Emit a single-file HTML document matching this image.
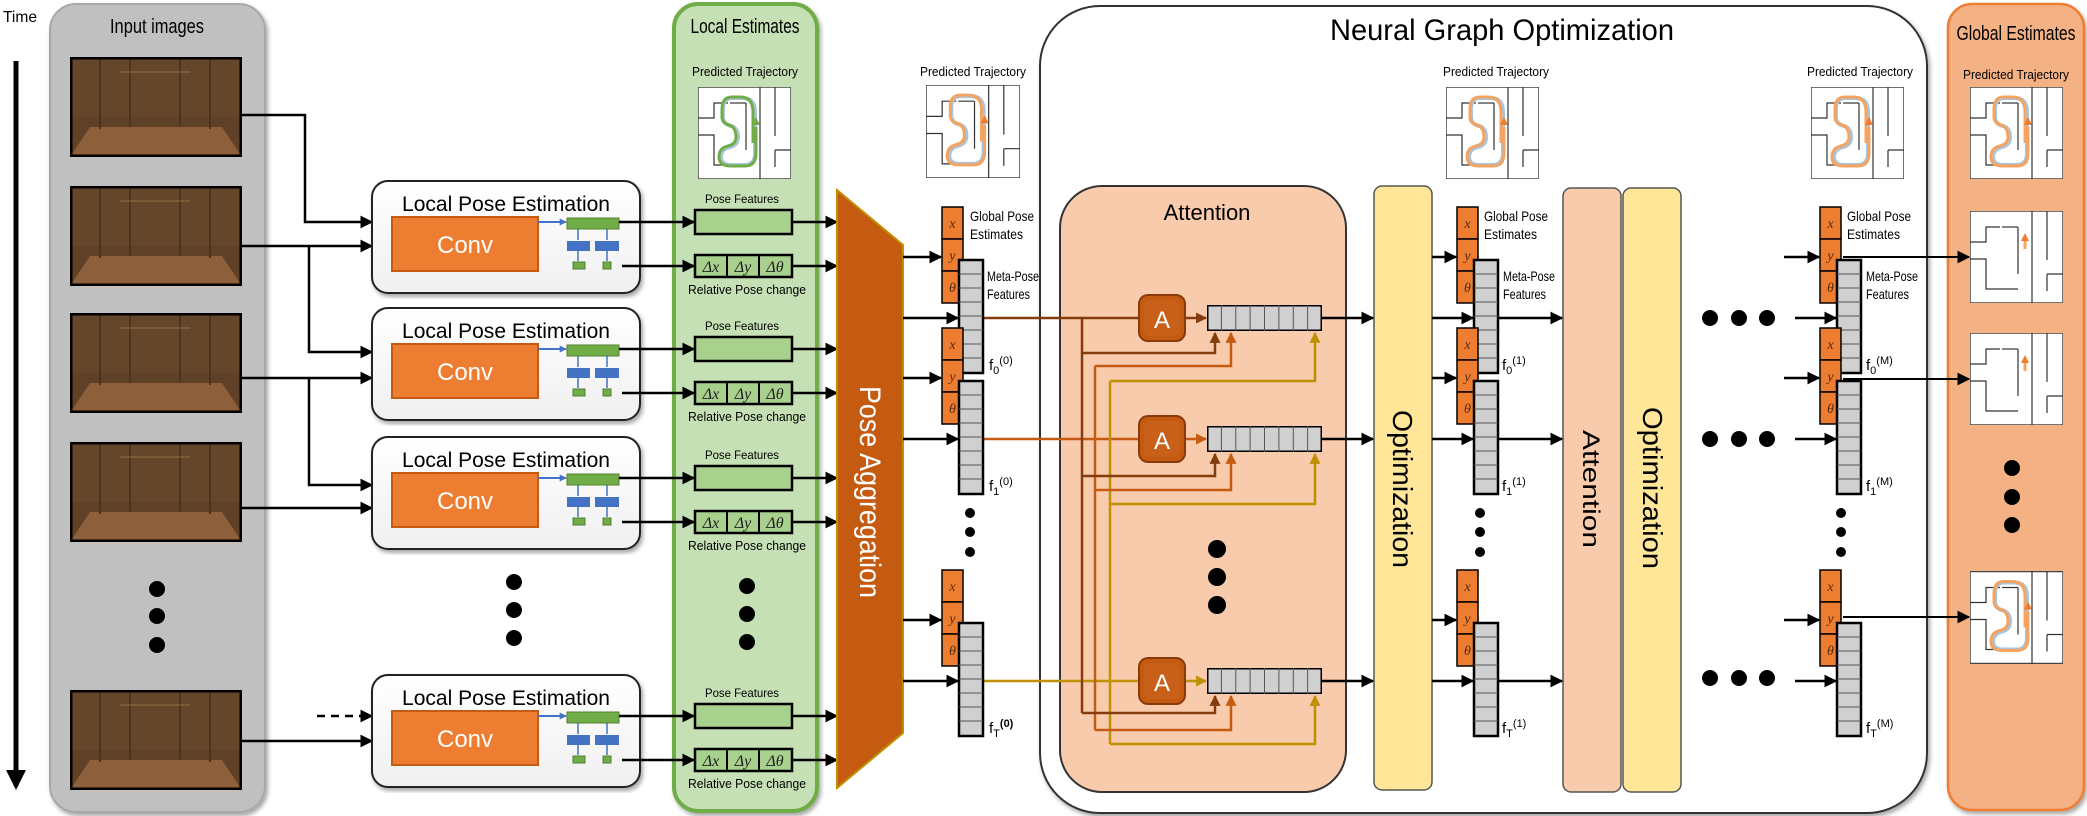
<!DOCTYPE html>
<html><head><meta charset="utf-8"><style>
html,body{margin:0;padding:0;background:#fff;}
svg{display:block;font-family:"Liberation Sans",sans-serif;}
.c{font-family:"Liberation Sans Narrow","Liberation Sans",sans-serif;}
.m{font-family:"Liberation Serif",serif;font-style:italic;}
</style></head><body>
<svg width="2087" height="816" viewBox="0 0 2087 816" xmlns="http://www.w3.org/2000/svg">
<defs>
<marker id="ak" viewBox="0 0 10 10" refX="9" refY="5" markerWidth="13" markerHeight="13" markerUnits="userSpaceOnUse" orient="auto"><path d="M0,0 L10,5 L0,10 z" fill="#000"/></marker>
<marker id="ab" viewBox="0 0 10 10" refX="9" refY="5" markerWidth="11" markerHeight="11" markerUnits="userSpaceOnUse" orient="auto"><path d="M0,0 L10,5 L0,10 z" fill="#843C0C"/></marker>
<marker id="ao" viewBox="0 0 10 10" refX="9" refY="5" markerWidth="11" markerHeight="11" markerUnits="userSpaceOnUse" orient="auto"><path d="M0,0 L10,5 L0,10 z" fill="#C55A11"/></marker>
<marker id="ag" viewBox="0 0 10 10" refX="9" refY="5" markerWidth="11" markerHeight="11" markerUnits="userSpaceOnUse" orient="auto"><path d="M0,0 L10,5 L0,10 z" fill="#BF9000"/></marker>
<marker id="abl" viewBox="0 0 10 10" refX="9" refY="5" markerWidth="7" markerHeight="7" markerUnits="userSpaceOnUse" orient="auto"><path d="M0,0 L10,5 L0,10 z" fill="#4472C4"/></marker>
<filter id="sh" x="-5%" y="-5%" width="110%" height="110%"><feDropShadow dx="2" dy="3" stdDeviation="2" flood-color="#000" flood-opacity="0.35"/></filter>
<symbol id="maze" viewBox="0 0 93 92">
<rect x="0" y="0" width="93" height="92" fill="#fff" stroke="#444" stroke-width="1.5"/>
<g fill="none" stroke="#333" stroke-width="1.2">
<path d="M62,0 V92"/><path d="M77,0 V49"/><path d="M77,63 H93 M77,63 V80"/>
<path d="M0,31 H16 V16 H30"/><path d="M0,48 H16 V78 H48"/><path d="M48,16 V63"/><path d="M32,16 H48"/>
</g>
</symbol>
<symbol id="trajO" viewBox="0 0 93 92">
<path d="M57,55 V25 Q57,11 44,11 H34 Q25,11 25,22 V30 Q25,37 33,39 Q40,41 40,50 Q40,58 32,60 Q23,62 23,70 Q23,78 33,78 H47 Q57,78 57,66 Z" fill="none" stroke="#a9c4dc" stroke-width="4"/>
<path d="M55,56 V25 Q55,10 42,10 H34 Q24,10 24,22 V30 Q24,36 31,38 Q38,40 38,50 Q38,57 30,59 Q21,61 21,70 Q21,79 33,79 H47 Q58,79 58,66 V40" fill="none" stroke="#F4A460" stroke-width="3"/>
<path d="M54,38 L58,30 L62,38 z" fill="#ED7D31"/>
</symbol>
<symbol id="trajG" viewBox="0 0 93 92">
<path d="M57,55 V25 Q57,11 44,11 H34 Q25,11 25,22 V30 Q25,37 33,39 Q40,41 40,50 Q40,58 32,60 Q23,62 23,70 Q23,78 33,78 H47 Q57,78 57,66 Z" fill="none" stroke="#a9c4dc" stroke-width="4"/>
<path d="M55,56 V25 Q55,10 42,10 H34 Q24,10 24,22 V30 Q24,36 31,38 Q38,40 38,50 Q38,57 30,59 Q21,61 21,70 Q21,79 33,79 H47 Q58,79 58,66 V40" fill="none" stroke="#70AD47" stroke-width="3"/>
<path d="M54,38 L58,30 L62,38 z" fill="#70AD47"/>
</symbol>
<symbol id="arrowO" viewBox="0 0 93 92">
<path d="M55,38 V30" stroke="#F4A460" stroke-width="3"/><path d="M51,30 L55,22 L59,30 z" fill="#ED7D31"/>
</symbol>
<symbol id="img" viewBox="0 0 172 100">
<rect x="0" y="0" width="172" height="100" fill="#5e4126"/>
<rect x="0" y="0" width="172" height="60" fill="#64462a"/>
<polygon points="0,100 20,70 152,70 172,100" fill="#8d5f3a"/>
<path d="M30,0 V72 M60,0 V70 M110,0 V70 M140,0 V72" stroke="#4b331d" stroke-width="2"/>
<path d="M50,15 L120,15" stroke="#b88c5a" stroke-width="1" opacity="0.6"/>
<rect x="0" y="0" width="172" height="100" fill="none" stroke="#000" stroke-width="5"/>
</symbol>
<symbol id="stack" viewBox="0 0 44 170" overflow="visible">
<rect x="0" y="0" width="21" height="32" fill="#ED7D31" stroke="#000" stroke-width="1.5"/>
<rect x="0" y="32" width="21" height="32" fill="#ED7D31" stroke="#000" stroke-width="1.5"/>
<rect x="0" y="64" width="21" height="32" fill="#ED7D31" stroke="#000" stroke-width="1.5"/>
<text x="10.5" y="21" font-size="14" text-anchor="middle" class="m" fill="#5a2a0a">x</text>
<text x="10.5" y="53" font-size="14" text-anchor="middle" class="m" fill="#5a2a0a">y</text>
<text x="10.5" y="85" font-size="14" text-anchor="middle" class="m" fill="#5a2a0a">θ</text>
<rect x="17" y="53" width="24" height="113" fill="#d0d0d0" stroke="#000" stroke-width="2.5"/>
<path d="M17,67 H41 M17,81 H41 M17,95 H41 M17,109 H41 M17,123 H41 M17,137 H41 M17,151 H41" stroke="#555" stroke-width="1"/>
</symbol>
<symbol id="vec" viewBox="0 0 115 26">
<rect x="0" y="0" width="115" height="26" fill="#d0d0d0" stroke="#000" stroke-width="3"/>
<path d="M14.4,0 V26 M28.8,0 V26 M43.1,0 V26 M57.5,0 V26 M71.9,0 V26 M86.3,0 V26 M100.6,0 V26" stroke="#555" stroke-width="1"/>
</symbol>
<symbol id="abox" viewBox="0 0 48 48">
<rect x="1" y="1" width="46" height="46" rx="9" fill="#C55A11" stroke="#8a3a08" stroke-width="2"/>
<rect x="6" y="6" width="36" height="36" rx="6" fill="#c8601a"/>
</symbol>
<linearGradient id="lpe" x1="0" y1="0" x2="0" y2="1"><stop offset="0" stop-color="#fff"/><stop offset="1" stop-color="#f0f0f0"/></linearGradient>
</defs>

<text x="3" y="22" font-size="16" class="c" textLength="34" lengthAdjust="spacingAndGlyphs">Time</text>
<line x1="16" y1="61" x2="16" y2="786" stroke="#000" stroke-width="5" marker-end="url(#ak)"/>
<polygon points="6,770 26,770 16,790" fill="#000"/>

<rect x="50" y="4" width="215" height="808" rx="26" fill="#c0c0c0" stroke="#a8a8a8" stroke-width="2" filter="url(#sh)"/>
<text x="157" y="33" font-size="20" text-anchor="middle" class="c" textLength="94" lengthAdjust="spacingAndGlyphs">Input images</text>
<use href="#img" x="70" y="57" width="172" height="100"/>
<use href="#img" x="70" y="186" width="172" height="100"/>
<use href="#img" x="70" y="313" width="172" height="100"/>
<use href="#img" x="70" y="442" width="172" height="100"/>
<use href="#img" x="70" y="690" width="172" height="100"/>
<circle cx="157" cy="589" r="8"/><circle cx="157" cy="616" r="8"/><circle cx="157" cy="645" r="8"/>

<g fill="none" stroke="#000" stroke-width="2.5" marker-end="url(#ak)">
<path d="M242,115 H305 V222 H372"/>
<path d="M242,246 H372"/><path d="M309,246 V352 H372"/>
<path d="M242,378 H372"/><path d="M309,378 V485 H372"/>
<path d="M242,508 H372"/>
<path d="M317,716 H372" stroke-dasharray="8,6"/>
<path d="M242,741 H372"/>
</g>

<g transform="translate(0,181)">
<rect x="372" y="0" width="268" height="112" rx="16" fill="url(#lpe)" stroke="#222" stroke-width="2" filter="url(#sh)"/>
<text x="506" y="30" font-size="21" text-anchor="middle" class="c" textLength="208" lengthAdjust="spacingAndGlyphs">Local Pose  Estimation</text>
<rect x="392" y="36" width="146" height="54" fill="#ED7D31" stroke="#C55A11" stroke-width="2"/>
<text x="465" y="72" font-size="24" text-anchor="middle" fill="#fff">Conv</text>
<line x1="538" y1="41" x2="566" y2="41" stroke="#4472C4" stroke-width="2" marker-end="url(#abl)"/>
<rect x="567" y="37" width="52" height="11" fill="#70AD47" stroke="#507e32" stroke-width="1"/>
<path d="M578,48 V59 M607,48 V59 M578,70 V80 M607,70 V80" stroke="#4472C4" stroke-width="1.5"/>
<rect x="567" y="60" width="23" height="10" fill="#4472C4"/><rect x="595" y="60" width="24" height="10" fill="#4472C4"/>
<rect x="573" y="81" width="12" height="7" fill="#70AD47" stroke="#507e32"/><rect x="603" y="81" width="8" height="7" fill="#70AD47" stroke="#507e32"/>
</g>
<g transform="translate(0,308)">
<rect x="372" y="0" width="268" height="112" rx="16" fill="url(#lpe)" stroke="#222" stroke-width="2" filter="url(#sh)"/>
<text x="506" y="30" font-size="21" text-anchor="middle" class="c" textLength="208" lengthAdjust="spacingAndGlyphs">Local Pose  Estimation</text>
<rect x="392" y="36" width="146" height="54" fill="#ED7D31" stroke="#C55A11" stroke-width="2"/>
<text x="465" y="72" font-size="24" text-anchor="middle" fill="#fff">Conv</text>
<line x1="538" y1="41" x2="566" y2="41" stroke="#4472C4" stroke-width="2" marker-end="url(#abl)"/>
<rect x="567" y="37" width="52" height="11" fill="#70AD47" stroke="#507e32" stroke-width="1"/>
<path d="M578,48 V59 M607,48 V59 M578,70 V80 M607,70 V80" stroke="#4472C4" stroke-width="1.5"/>
<rect x="567" y="60" width="23" height="10" fill="#4472C4"/><rect x="595" y="60" width="24" height="10" fill="#4472C4"/>
<rect x="573" y="81" width="12" height="7" fill="#70AD47" stroke="#507e32"/><rect x="603" y="81" width="8" height="7" fill="#70AD47" stroke="#507e32"/>
</g>
<g transform="translate(0,437)">
<rect x="372" y="0" width="268" height="112" rx="16" fill="url(#lpe)" stroke="#222" stroke-width="2" filter="url(#sh)"/>
<text x="506" y="30" font-size="21" text-anchor="middle" class="c" textLength="208" lengthAdjust="spacingAndGlyphs">Local Pose  Estimation</text>
<rect x="392" y="36" width="146" height="54" fill="#ED7D31" stroke="#C55A11" stroke-width="2"/>
<text x="465" y="72" font-size="24" text-anchor="middle" fill="#fff">Conv</text>
<line x1="538" y1="41" x2="566" y2="41" stroke="#4472C4" stroke-width="2" marker-end="url(#abl)"/>
<rect x="567" y="37" width="52" height="11" fill="#70AD47" stroke="#507e32" stroke-width="1"/>
<path d="M578,48 V59 M607,48 V59 M578,70 V80 M607,70 V80" stroke="#4472C4" stroke-width="1.5"/>
<rect x="567" y="60" width="23" height="10" fill="#4472C4"/><rect x="595" y="60" width="24" height="10" fill="#4472C4"/>
<rect x="573" y="81" width="12" height="7" fill="#70AD47" stroke="#507e32"/><rect x="603" y="81" width="8" height="7" fill="#70AD47" stroke="#507e32"/>
</g>
<g transform="translate(0,675)">
<rect x="372" y="0" width="268" height="112" rx="16" fill="url(#lpe)" stroke="#222" stroke-width="2" filter="url(#sh)"/>
<text x="506" y="30" font-size="21" text-anchor="middle" class="c" textLength="208" lengthAdjust="spacingAndGlyphs">Local Pose  Estimation</text>
<rect x="392" y="36" width="146" height="54" fill="#ED7D31" stroke="#C55A11" stroke-width="2"/>
<text x="465" y="72" font-size="24" text-anchor="middle" fill="#fff">Conv</text>
<line x1="538" y1="41" x2="566" y2="41" stroke="#4472C4" stroke-width="2" marker-end="url(#abl)"/>
<rect x="567" y="37" width="52" height="11" fill="#70AD47" stroke="#507e32" stroke-width="1"/>
<path d="M578,48 V59 M607,48 V59 M578,70 V80 M607,70 V80" stroke="#4472C4" stroke-width="1.5"/>
<rect x="567" y="60" width="23" height="10" fill="#4472C4"/><rect x="595" y="60" width="24" height="10" fill="#4472C4"/>
<rect x="573" y="81" width="12" height="7" fill="#70AD47" stroke="#507e32"/><rect x="603" y="81" width="8" height="7" fill="#70AD47" stroke="#507e32"/>
</g>
<circle cx="514" cy="582" r="8"/><circle cx="514" cy="610" r="8"/><circle cx="514" cy="638" r="8"/>

<rect x="674" y="4" width="143" height="807" rx="24" fill="#C5E0B4" stroke="#70AD47" stroke-width="4" filter="url(#sh)"/>
<text x="745" y="33" font-size="20" text-anchor="middle" class="c" textLength="109" lengthAdjust="spacingAndGlyphs">Local Estimates</text>
<text x="745" y="76" font-size="13" text-anchor="middle" class="c" textLength="106" lengthAdjust="spacingAndGlyphs">Predicted Trajectory</text>
<use href="#maze" x="698" y="87" width="93" height="92"/>
<use href="#trajG" x="698" y="87" width="93" height="92"/>

<g transform="translate(0,181)">
<text x="742" y="22" font-size="12" text-anchor="middle" class="c" textLength="74" lengthAdjust="spacingAndGlyphs">Pose Features</text>
<rect x="695" y="29" width="97" height="24" fill="#A9D18E" stroke="#000" stroke-width="2.5"/>
<rect x="695" y="74" width="97" height="22" fill="#A9D18E" stroke="#000" stroke-width="2.5"/>
<path d="M727,74 V96 M759,74 V96" stroke="#000" stroke-width="2"/>
<text x="711" y="91" font-size="16" text-anchor="middle" class="m" fill="#222">Δx</text>
<text x="743" y="91" font-size="16" text-anchor="middle" class="m" fill="#222">Δy</text>
<text x="775" y="91" font-size="16" text-anchor="middle" class="m" fill="#222">Δθ</text>
<text x="747" y="113" font-size="13" text-anchor="middle" class="c" textLength="118" lengthAdjust="spacingAndGlyphs">Relative Pose change</text>
</g>
<g transform="translate(0,308)">
<text x="742" y="22" font-size="12" text-anchor="middle" class="c" textLength="74" lengthAdjust="spacingAndGlyphs">Pose Features</text>
<rect x="695" y="29" width="97" height="24" fill="#A9D18E" stroke="#000" stroke-width="2.5"/>
<rect x="695" y="74" width="97" height="22" fill="#A9D18E" stroke="#000" stroke-width="2.5"/>
<path d="M727,74 V96 M759,74 V96" stroke="#000" stroke-width="2"/>
<text x="711" y="91" font-size="16" text-anchor="middle" class="m" fill="#222">Δx</text>
<text x="743" y="91" font-size="16" text-anchor="middle" class="m" fill="#222">Δy</text>
<text x="775" y="91" font-size="16" text-anchor="middle" class="m" fill="#222">Δθ</text>
<text x="747" y="113" font-size="13" text-anchor="middle" class="c" textLength="118" lengthAdjust="spacingAndGlyphs">Relative Pose change</text>
</g>
<g transform="translate(0,437)">
<text x="742" y="22" font-size="12" text-anchor="middle" class="c" textLength="74" lengthAdjust="spacingAndGlyphs">Pose Features</text>
<rect x="695" y="29" width="97" height="24" fill="#A9D18E" stroke="#000" stroke-width="2.5"/>
<rect x="695" y="74" width="97" height="22" fill="#A9D18E" stroke="#000" stroke-width="2.5"/>
<path d="M727,74 V96 M759,74 V96" stroke="#000" stroke-width="2"/>
<text x="711" y="91" font-size="16" text-anchor="middle" class="m" fill="#222">Δx</text>
<text x="743" y="91" font-size="16" text-anchor="middle" class="m" fill="#222">Δy</text>
<text x="775" y="91" font-size="16" text-anchor="middle" class="m" fill="#222">Δθ</text>
<text x="747" y="113" font-size="13" text-anchor="middle" class="c" textLength="118" lengthAdjust="spacingAndGlyphs">Relative Pose change</text>
</g>
<g transform="translate(0,675)">
<text x="742" y="22" font-size="12" text-anchor="middle" class="c" textLength="74" lengthAdjust="spacingAndGlyphs">Pose Features</text>
<rect x="695" y="29" width="97" height="24" fill="#A9D18E" stroke="#000" stroke-width="2.5"/>
<rect x="695" y="74" width="97" height="22" fill="#A9D18E" stroke="#000" stroke-width="2.5"/>
<path d="M727,74 V96 M759,74 V96" stroke="#000" stroke-width="2"/>
<text x="711" y="91" font-size="16" text-anchor="middle" class="m" fill="#222">Δx</text>
<text x="743" y="91" font-size="16" text-anchor="middle" class="m" fill="#222">Δy</text>
<text x="775" y="91" font-size="16" text-anchor="middle" class="m" fill="#222">Δθ</text>
<text x="747" y="113" font-size="13" text-anchor="middle" class="c" textLength="118" lengthAdjust="spacingAndGlyphs">Relative Pose change</text>
</g>
<circle cx="747" cy="586" r="8"/><circle cx="747" cy="614" r="8"/><circle cx="747" cy="642" r="8"/>

<g stroke="#000" stroke-width="2.5" marker-end="url(#ak)">
<line x1="619" y1="222" x2="694" y2="222"/><line x1="622" y1="266" x2="694" y2="266"/>
<line x1="619" y1="349" x2="694" y2="349"/><line x1="622" y1="393" x2="694" y2="393"/>
<line x1="619" y1="478" x2="694" y2="478"/><line x1="622" y1="522" x2="694" y2="522"/>
<line x1="619" y1="716" x2="694" y2="716"/><line x1="622" y1="760" x2="694" y2="760"/>
<line x1="792" y1="222" x2="837" y2="222"/><line x1="792" y1="266" x2="837" y2="266"/>
<line x1="792" y1="349" x2="837" y2="349"/><line x1="792" y1="393" x2="837" y2="393"/>
<line x1="792" y1="478" x2="837" y2="478"/><line x1="792" y1="522" x2="837" y2="522"/>
<line x1="792" y1="716" x2="837" y2="716"/><line x1="792" y1="760" x2="837" y2="760"/>
</g>

<polygon points="837,190 903,245 903,733 837,788" fill="#C55A11" stroke="#BF9000" stroke-width="2"/>
<text transform="translate(860,492) rotate(90)" font-size="30" text-anchor="middle" fill="#fff" textLength="212" lengthAdjust="spacingAndGlyphs">Pose Aggregation</text>

<rect x="1040" y="6" width="887" height="807" rx="60" fill="#fff" stroke="#333" stroke-width="2" filter="url(#sh)"/>
<text x="1502" y="40" font-size="30" text-anchor="middle" textLength="344" lengthAdjust="spacingAndGlyphs">Neural Graph Optimization</text>

<text x="973" y="76" font-size="13" text-anchor="middle" class="c" textLength="106" lengthAdjust="spacingAndGlyphs">Predicted Trajectory</text>
<use href="#maze" x="926" y="85" width="94" height="93"/><use href="#trajO" x="926" y="85" width="94" height="93"/>
<text x="1496" y="76" font-size="13" text-anchor="middle" class="c" textLength="106" lengthAdjust="spacingAndGlyphs">Predicted Trajectory</text>
<use href="#maze" x="1446" y="87" width="93" height="92"/><use href="#trajO" x="1446" y="87" width="93" height="92"/>
<text x="1860" y="76" font-size="13" text-anchor="middle" class="c" textLength="106" lengthAdjust="spacingAndGlyphs">Predicted Trajectory</text>
<use href="#maze" x="1811" y="87" width="93" height="92"/><use href="#trajO" x="1811" y="87" width="93" height="92"/>

<rect x="1060" y="186" width="286" height="606" rx="42" fill="#F8CBAD" stroke="#333" stroke-width="2"/>
<text x="1207" y="220" font-size="22" text-anchor="middle">Attention</text>

<g fill="none" stroke-width="2.5">
<path d="M983,318 H1138" stroke="#843C0C"/>
<path d="M983,439 H1138" stroke="#C55A11"/>
<path d="M983,681 H1138" stroke="#BF9000"/>
<path d="M1082,318 V713" stroke="#843C0C"/>
<path d="M1095,366 V730" stroke="#C55A11"/>
<path d="M1110,381 V744" stroke="#BF9000"/>
<path d="M1082,353 H1215 V333" stroke="#843C0C" marker-end="url(#ab)"/>
<path d="M1095,366 H1231 V333" stroke="#C55A11" marker-end="url(#ao)"/>
<path d="M1110,381 H1315 V333" stroke="#BF9000" marker-end="url(#ag)"/>
<path d="M1082,476 H1215 V454" stroke="#843C0C" marker-end="url(#ab)"/>
<path d="M1095,490 H1231 V454" stroke="#C55A11" marker-end="url(#ao)"/>
<path d="M1110,504 H1315 V454" stroke="#BF9000" marker-end="url(#ag)"/>
<path d="M1082,713 H1215 V696" stroke="#843C0C" marker-end="url(#ab)"/>
<path d="M1095,730 H1231 V696" stroke="#C55A11" marker-end="url(#ao)"/>
<path d="M1110,744 H1315 V696" stroke="#BF9000" marker-end="url(#ag)"/>
<path d="M1186,318 H1206" stroke="#843C0C" marker-end="url(#ab)"/>
<path d="M1186,439 H1206" stroke="#C55A11" marker-end="url(#ao)"/>
<path d="M1186,681 H1206" stroke="#BF9000" marker-end="url(#ag)"/>
</g>
<use href="#abox" x="1138" y="294" width="48" height="48"/>
<use href="#abox" x="1138" y="415" width="48" height="48"/>
<use href="#abox" x="1138" y="657" width="48" height="48"/>
<text x="1162" y="328" font-size="24" text-anchor="middle" fill="#fff">A</text>
<text x="1162" y="449" font-size="24" text-anchor="middle" fill="#fff">A</text>
<text x="1162" y="691" font-size="24" text-anchor="middle" fill="#fff">A</text>
<use href="#vec" x="1207" y="305" width="115" height="26"/>
<use href="#vec" x="1207" y="426" width="115" height="26"/>
<use href="#vec" x="1207" y="668" width="115" height="26"/>
<circle cx="1217" cy="549" r="9"/><circle cx="1217" cy="577" r="9"/><circle cx="1217" cy="605" r="9"/>

<rect x="1374" y="186" width="58" height="604" rx="8" fill="#FFE699" stroke="#555" stroke-width="1.5"/>
<text transform="translate(1393,489) rotate(90)" font-size="28" text-anchor="middle" textLength="158" lengthAdjust="spacingAndGlyphs">Optimization</text>

<rect x="1563" y="188" width="58" height="604" rx="8" fill="#F8CBAD" stroke="#555" stroke-width="1.5"/>
<text transform="translate(1583,489) rotate(90)" font-size="24" text-anchor="middle" textLength="118" lengthAdjust="spacingAndGlyphs">Attention</text>
<rect x="1623" y="188" width="58" height="604" rx="8" fill="#FFE699" stroke="#555" stroke-width="1.5"/>
<text transform="translate(1643,488) rotate(90)" font-size="28" text-anchor="middle" textLength="162" lengthAdjust="spacingAndGlyphs">Optimization</text>

<g>
<circle cx="1710" cy="318" r="8"/><circle cx="1739" cy="318" r="8"/><circle cx="1767" cy="318" r="8"/>
<circle cx="1710" cy="439" r="8"/><circle cx="1739" cy="439" r="8"/><circle cx="1767" cy="439" r="8"/>
<circle cx="1710" cy="678" r="8"/><circle cx="1739" cy="678" r="8"/><circle cx="1767" cy="678" r="8"/>
</g>

<g stroke="#000" stroke-width="2.5" marker-end="url(#ak)">
<line x1="903" y1="257" x2="941" y2="257"/><line x1="903" y1="318" x2="958" y2="318"/>
<line x1="903" y1="378" x2="941" y2="378"/><line x1="903" y1="439" x2="958" y2="439"/>
<line x1="903" y1="620" x2="941" y2="620"/><line x1="903" y1="681" x2="958" y2="681"/>
<line x1="1322" y1="318" x2="1373" y2="318"/><line x1="1322" y1="439" x2="1373" y2="439"/><line x1="1322" y1="681" x2="1373" y2="681"/>
<line x1="1432" y1="257" x2="1456" y2="257"/><line x1="1432" y1="318" x2="1473" y2="318"/>
<line x1="1432" y1="378" x2="1456" y2="378"/><line x1="1432" y1="439" x2="1473" y2="439"/>
<line x1="1432" y1="620" x2="1456" y2="620"/><line x1="1432" y1="681" x2="1473" y2="681"/>
<line x1="1490" y1="318" x2="1562" y2="318"/><line x1="1490" y1="439" x2="1562" y2="439"/><line x1="1490" y1="681" x2="1562" y2="681"/>
<line x1="1784" y1="257" x2="1819" y2="257"/><line x1="1795" y1="318" x2="1836" y2="318"/>
<line x1="1784" y1="378" x2="1819" y2="378"/><line x1="1795" y1="439" x2="1836" y2="439"/>
<line x1="1784" y1="620" x2="1819" y2="620"/><line x1="1795" y1="681" x2="1836" y2="681"/>
</g>

<use href="#stack" x="942" y="207" width="44" height="170"/>
<use href="#stack" x="942" y="328" width="44" height="170"/>
<use href="#stack" x="942" y="570" width="44" height="170"/>
<use href="#stack" x="1457" y="207" width="44" height="170"/>
<use href="#stack" x="1457" y="328" width="44" height="170"/>
<use href="#stack" x="1457" y="570" width="44" height="170"/>
<use href="#stack" x="1820" y="207" width="44" height="170"/>
<use href="#stack" x="1820" y="328" width="44" height="170"/>
<use href="#stack" x="1820" y="570" width="44" height="170"/>
<circle cx="970" cy="513" r="5"/><circle cx="970" cy="532" r="5"/><circle cx="970" cy="552" r="5"/>
<circle cx="1480" cy="513" r="5"/><circle cx="1480" cy="532" r="5"/><circle cx="1480" cy="552" r="5"/>
<circle cx="1841" cy="513" r="5"/><circle cx="1841" cy="532" r="5"/><circle cx="1841" cy="552" r="5"/>

<g class="c" font-size="14">
<text x="970" y="221" textLength="64" lengthAdjust="spacingAndGlyphs">Global Pose</text>
<text x="970" y="239" textLength="53" lengthAdjust="spacingAndGlyphs">Estimates</text>
<text x="987" y="281" textLength="52" lengthAdjust="spacingAndGlyphs">Meta-Pose</text>
<text x="987" y="299" textLength="43" lengthAdjust="spacingAndGlyphs">Features</text>
<text x="1484" y="221" textLength="64" lengthAdjust="spacingAndGlyphs">Global Pose</text>
<text x="1484" y="239" textLength="53" lengthAdjust="spacingAndGlyphs">Estimates</text>
<text x="1503" y="281" textLength="52" lengthAdjust="spacingAndGlyphs">Meta-Pose</text>
<text x="1503" y="299" textLength="43" lengthAdjust="spacingAndGlyphs">Features</text>
<text x="1847" y="221" textLength="64" lengthAdjust="spacingAndGlyphs">Global Pose</text>
<text x="1847" y="239" textLength="53" lengthAdjust="spacingAndGlyphs">Estimates</text>
<text x="1866" y="281" textLength="52" lengthAdjust="spacingAndGlyphs">Meta-Pose</text>
<text x="1866" y="299" textLength="43" lengthAdjust="spacingAndGlyphs">Features</text>
</g>
<g font-size="15">
<text x="989" y="370">f<tspan font-size="11" dy="4">0</tspan><tspan font-size="11" dy="-10">(0)</tspan></text>
<text x="989" y="491">f<tspan font-size="11" dy="4">1</tspan><tspan font-size="11" dy="-10">(0)</tspan></text>
<text x="989" y="733">f<tspan font-size="11" dy="4">T</tspan><tspan font-size="11" dy="-10" font-weight="bold">(0)</tspan></text>
<text x="1502" y="370">f<tspan font-size="11" dy="4">0</tspan><tspan font-size="11" dy="-10">(1)</tspan></text>
<text x="1502" y="491">f<tspan font-size="11" dy="4">1</tspan><tspan font-size="11" dy="-10">(1)</tspan></text>
<text x="1502" y="733">f<tspan font-size="11" dy="4">T</tspan><tspan font-size="11" dy="-10">(1)</tspan></text>
<text x="1866" y="370">f<tspan font-size="11" dy="4">0</tspan><tspan font-size="11" dy="-10">(M)</tspan></text>
<text x="1866" y="491">f<tspan font-size="11" dy="4">1</tspan><tspan font-size="11" dy="-10">(M)</tspan></text>
<text x="1866" y="733">f<tspan font-size="11" dy="4">T</tspan><tspan font-size="11" dy="-10">(M)</tspan></text>
</g>

<rect x="1948" y="4" width="136" height="806" rx="24" fill="#F4B183" stroke="#ED7D31" stroke-width="2.5" filter="url(#sh)"/>
<text x="2016" y="40" font-size="20" text-anchor="middle" class="c" textLength="119" lengthAdjust="spacingAndGlyphs">Global Estimates</text>
<text x="2016" y="79" font-size="13" text-anchor="middle" class="c" textLength="106" lengthAdjust="spacingAndGlyphs">Predicted Trajectory</text>
<use href="#maze" x="1970" y="87" width="93" height="92"/><use href="#trajO" x="1970" y="87" width="93" height="92"/>
<use href="#maze" x="1970" y="211" width="93" height="92"/><use href="#arrowO" x="1970" y="211" width="93" height="92"/>
<use href="#maze" x="1970" y="333" width="93" height="92"/><use href="#arrowO" x="1970" y="333" width="93" height="92"/>
<use href="#maze" x="1970" y="571" width="93" height="93"/><use href="#trajO" x="1970" y="571" width="93" height="93"/>
<circle cx="2012" cy="468" r="8"/><circle cx="2012" cy="497" r="8"/><circle cx="2012" cy="525" r="8"/>
<g stroke="#000" stroke-width="2" marker-end="url(#ak)">
<line x1="1843" y1="257" x2="1969" y2="257"/>
<line x1="1843" y1="379" x2="1969" y2="379"/>
<line x1="1843" y1="617" x2="1969" y2="617"/>
</g>
</svg>
</body></html>
